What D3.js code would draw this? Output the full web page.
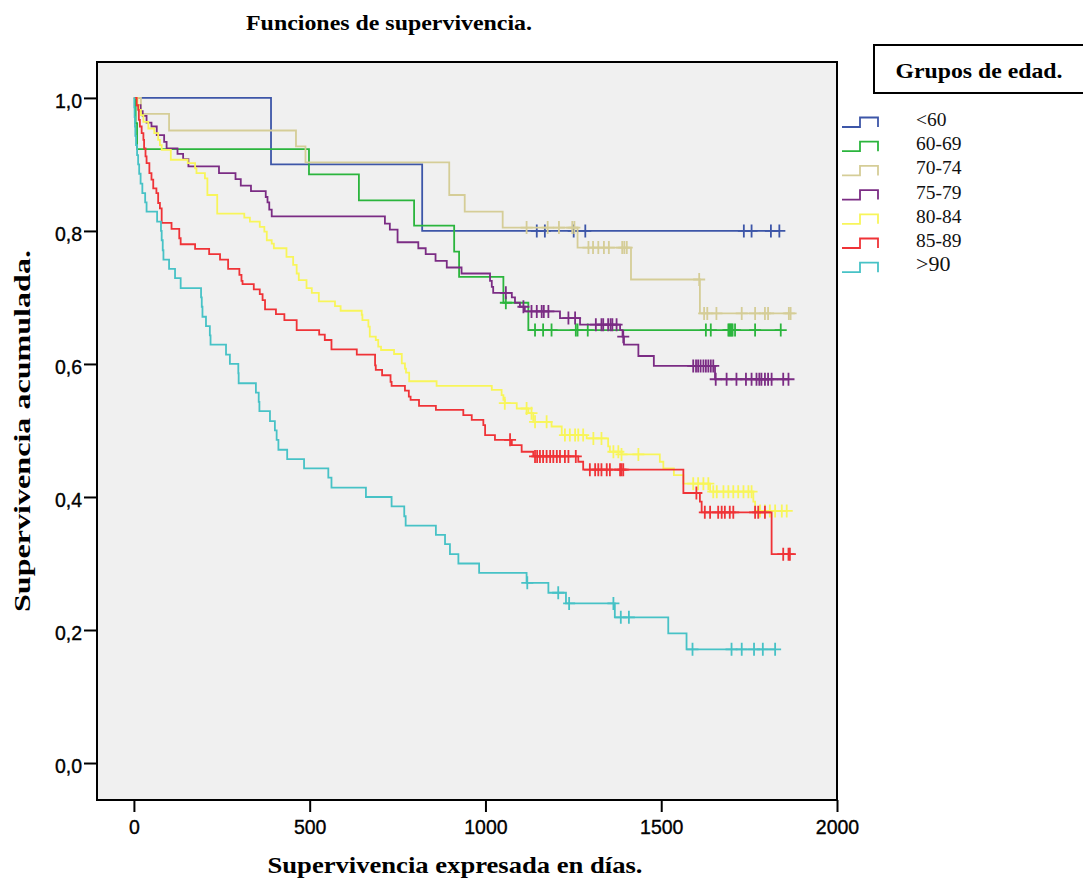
<!DOCTYPE html>
<html>
<head>
<meta charset="utf-8">
<script src="https://cdnjs.cloudflare.com/ajax/libs/d3/7.8.5/d3.min.js"></script>
<style>
  body { margin: 0; background: #fff; }
</style>
</head>
<body>
<div id="container"></div>
<script>
// grupos de edad y curvas de Kaplan-Meier
const groups = ["<60", "60-69", "70-74", "75-79", "80-84", "85-89", ">90"];
const colors = ["#3d56a8", "#2bb53d", "#d5cd97", "#7b2c84", "#f8f55a", "#ef3337", "#47c2c6"];
const xTicks = [0, 500, 1000, 1500, 2000];
const yTicks = [0, 0.2, 0.4, 0.6, 0.8, 1.0];

// [dia, supervivencia] en cada caida
const lt60Steps = [[0, 1], [390, 0.9], [820, 0.8]];
const lt60Censor = [1146, 1169, 1251, 1284, 1735, 1757, 1812, 1836];

const g6069Steps = [[0, 1], [5, 0.962], [9, 0.923], [498, 0.885], [640, 0.846], [797, 0.808],
  [911, 0.769], [925, 0.731], [1051, 0.692], [1122, 0.651]];
const g6069Censor = [1058, 1141, 1164, 1188, 1257, 1262, 1291, 1627, 1641, 1691, 1694, 1697,
  1700, 1703, 1710, 1767, 1840];

const g7074Steps = [[0, 1], [20, 0.976], [100, 0.951], [461, 0.927], [488, 0.903], [897, 0.854],
  [941, 0.829], [1049, 0.805], [1262, 0.775], [1414, 0.727], [1610, 0.676]];
const g7074Censor = [1117, 1177, 1209, 1247, 1253, 1293, 1306, 1321, 1337, 1351, 1389, 1395, 1402,
  1608, 1622, 1631, 1657, 1729, 1767, 1795, 1804, 1863, 1868];

const g7579Steps = [[0, 1], [9, 0.989], [19, 0.980], [25, 0.973], [36, 0.963], [50, 0.957],
  [65, 0.944], [86, 0.934], [93, 0.924], [124, 0.916], [140, 0.908], [155, 0.897], [242, 0.887],
  [289, 0.878], [304, 0.868], [333, 0.860], [375, 0.851], [380, 0.843], [385, 0.832], [392, 0.822],
  [714, 0.811], [728, 0.802], [750, 0.783], [809, 0.774], [830, 0.765], [858, 0.755], [890, 0.745],
  [932, 0.736], [1013, 0.725], [1018, 0.716], [1022, 0.707], [1075, 0.700], [1084, 0.692],
  [1098, 0.686], [1112, 0.679], [1212, 0.669], [1269, 0.659], [1383, 0.651], [1390, 0.641],
  [1394, 0.629], [1435, 0.612], [1479, 0.597], [1653, 0.577]];
const g7579Censor = [1058, 1108, 1131, 1146, 1160, 1166, 1179, 1236, 1255, 1314, 1330, 1335, 1349,
  1356, 1361, 1373, 1392, 1591, 1599, 1605, 1612, 1620, 1627, 1634, 1641, 1648, 1655, 1686, 1714,
  1741, 1757, 1771, 1779, 1785, 1795, 1804, 1814, 1847, 1862];

const g8084Steps = [[0, 1], [10, 0.989], [14, 0.982], [20, 0.974], [27, 0.964], [41, 0.954],
  [58, 0.947], [69, 0.937], [74, 0.929], [79, 0.922], [105, 0.907], [153, 0.902], [174, 0.894],
  [178, 0.887], [202, 0.879], [209, 0.854], [237, 0.826], [314, 0.820], [330, 0.814], [358, 0.806],
  [371, 0.799], [378, 0.786], [392, 0.781], [398, 0.774], [434, 0.761], [453, 0.749], [463, 0.736],
  [469, 0.726], [491, 0.714], [506, 0.707], [526, 0.694], [572, 0.687], [588, 0.680], [648, 0.674],
  [650, 0.666], [667, 0.656], [671, 0.641], [688, 0.636], [695, 0.626], [703, 0.621], [740, 0.615],
  [762, 0.601], [771, 0.593], [774, 0.587], [783, 0.574], [861, 0.567], [1018, 0.561], [1046, 0.553],
  [1051, 0.546], [1055, 0.541], [1089, 0.533], [1122, 0.526], [1136, 0.513], [1188, 0.506],
  [1217, 0.493], [1288, 0.488], [1349, 0.476], [1354, 0.468], [1387, 0.464], [1496, 0.453],
  [1506, 0.443], [1536, 0.433], [1563, 0.420], [1639, 0.408], [1762, 0.393], [1767, 0.379]];
const g8084Censor = [1055, 1117, 1131, 1141, 1174, 1226, 1240, 1255, 1264, 1278, 1307, 1330, 1364,
  1378, 1387, 1435, 1591, 1605, 1620, 1634, 1648, 1658, 1677, 1691, 1705, 1719, 1734, 1748, 1757,
  1781, 1795, 1809, 1824, 1843, 1857];

const g8589Steps = [[0, 1], [8, 0.989], [12, 0.982], [14, 0.967], [17, 0.957], [22, 0.947],
  [27, 0.937], [29, 0.924], [33, 0.912], [36, 0.902], [44, 0.887], [50, 0.877], [55, 0.864],
  [64, 0.857], [69, 0.842], [74, 0.834], [79, 0.812], [107, 0.803], [129, 0.789], [133, 0.780],
  [174, 0.773], [214, 0.765], [245, 0.757], [268, 0.743], [300, 0.734], [306, 0.725], [309, 0.720],
  [341, 0.712], [358, 0.705], [366, 0.696], [373, 0.682], [404, 0.675], [428, 0.666], [463, 0.651],
  [527, 0.644], [543, 0.636], [562, 0.622], [634, 0.614], [686, 0.598], [688, 0.591], [706, 0.583],
  [730, 0.573], [733, 0.567], [771, 0.560], [782, 0.551], [787, 0.546], [811, 0.537], [859, 0.531],
  [937, 0.523], [961, 0.516], [994, 0.508], [999, 0.493], [1027, 0.486], [1075, 0.478],
  [1103, 0.468], [1136, 0.461], [1264, 0.453], [1278, 0.441], [1563, 0.406], [1610, 0.393],
  [1615, 0.377], [1814, 0.314]];
const g8589Censor = [1070, 1141, 1147, 1155, 1164, 1174, 1184, 1193, 1203, 1212, 1226, 1236, 1257,
  1297, 1312, 1321, 1330, 1345, 1354, 1383, 1387, 1392, 1600, 1624, 1639, 1662, 1672, 1681, 1695,
  1705, 1767, 1776, 1795, 1847, 1862, 1866];

const gt90Steps = [[0, 1], [1, 0.986], [2, 0.971], [3, 0.957], [4, 0.943], [6, 0.929], [9, 0.914],
  [12, 0.900], [15, 0.886], [19, 0.871], [24, 0.857], [32, 0.843], [36, 0.829], [66, 0.814],
  [77, 0.800], [79, 0.786], [82, 0.771], [84, 0.757], [100, 0.743], [117, 0.729], [133, 0.714],
  [191, 0.700], [193, 0.686], [195, 0.671], [205, 0.657], [216, 0.643], [218, 0.629], [262, 0.614],
  [273, 0.600], [297, 0.586], [298, 0.571], [347, 0.557], [355, 0.543], [357, 0.529], [387, 0.514],
  [401, 0.500], [406, 0.486], [411, 0.471], [436, 0.457], [484, 0.443], [553, 0.429], [562, 0.414],
  [660, 0.400], [733, 0.386], [769, 0.371], [773, 0.357], [859, 0.343], [885, 0.329], [899, 0.314],
  [923, 0.300], [982, 0.286], [1117, 0.271], [1179, 0.256], [1229, 0.240], [1368, 0.219],
  [1520, 0.195], [1572, 0.171]];
const gt90Censor = [1119, 1207, 1238, 1364, 1385, 1408, 1589, 1700, 1729, 1764, 1789, 1824];

const allSteps = [lt60Steps, g6069Steps, g7074Steps, g7579Steps, g8084Steps, g8589Steps, gt90Steps];
const allCensor = [lt60Censor, g6069Censor, g7074Censor, g7579Censor, g8084Censor, g8589Censor, gt90Censor];

const W = 1083, H = 882;
const pLeft = 97, pTop = 62, pRight = 837, pBottom = 800;

let svg = d3.select("#container")
  .append("svg")
  .attr("width", W)
  .attr("height", H);

const x = d3.scaleLinear().domain([-105, 2000]).range([pLeft, pRight]);
const y = d3.scaleLinear().domain([-0.0556, 1.054]).range([pBottom, pTop]);

// fondo del area del grafico
svg.append("rect")
  .attr("x", pLeft).attr("y", pTop)
  .attr("width", pRight - pLeft).attr("height", pBottom - pTop)
  .attr("fill", "#f0f0f0");

const tickFont = "Arial, 'Liberation Sans', sans-serif";

const yAxis = svg.append("g")
  .attr("transform", `translate(${pLeft},0)`)
  .call(d3.axisLeft(y).tickValues(yTicks).tickSize(13).tickPadding(2)
    .tickFormat(d => d3.format(".1f")(d).replace(".", ",")));
const xAxis = svg.append("g")
  .attr("transform", `translate(0,${pBottom})`)
  .call(d3.axisBottom(x).tickValues(xTicks).tickSize(12).tickPadding(8)
    .tickFormat(d3.format("d")));

[yAxis, xAxis].forEach(a => {
  a.select(".domain").remove();
  a.selectAll("line").attr("stroke", "#000").attr("stroke-width", 2);
  a.selectAll("text")
    .attr("fill", "#000")
    .attr("stroke", "#000").attr("stroke-width", 0.35)
    .style("font-family", tickFont)
    .style("font-size", "19.5px");
});
yAxis.selectAll("text").attr("dy", "0.47em");

// curvas escalonadas
const line = d3.line()
  .x(d => x(d[0]))
  .y(d => y(d[1]))
  .curve(d3.curveStepAfter);

function survAt(steps, t) {
  let s = steps[0][1];
  steps.forEach(p => { if (p[0] <= t) s = p[1]; });
  return s;
}

allSteps.forEach((steps, i) => {
  const censor = allCensor[i];
  const end = d3.max(censor);
  const pts = steps.concat([[end, steps[steps.length - 1][1]]]);
  const g = svg.append("g");
  g.append("path")
    .attr("d", line(pts))
    .attr("fill", "none")
    .attr("stroke", colors[i])
    .attr("stroke-width", 1.8);
  g.selectAll("path.cens").data(censor).enter().append("path")
    .attr("class", "cens")
    .attr("d", t => {
      const cx = x(t), cy = y(survAt(steps, t));
      return `M${cx - 6},${cy}H${cx + 6}M${cx},${cy - 6.5}V${cy + 6.5}`;
    })
    .attr("fill", "none")
    .attr("stroke", colors[i])
    .attr("stroke-width", 1.8);
});

// marco
svg.append("rect")
  .attr("x", pLeft).attr("y", pTop)
  .attr("width", pRight - pLeft).attr("height", pBottom - pTop)
  .attr("fill", "none")
  .attr("stroke", "#000")
  .attr("stroke-width", 2);

const serif = "'Times New Roman', 'Liberation Serif', serif";

svg.append("text")
  .text("Funciones de supervivencia.")
  .attr("x", 389).attr("y", 30)
  .attr("text-anchor", "middle")
  .attr("textLength", 286).attr("lengthAdjust", "spacingAndGlyphs")
  .style("font-family", serif).style("font-weight", "bold").style("font-size", "20px");

svg.append("text")
  .text("Supervivencia expresada en días.")
  .attr("x", 455).attr("y", 873)
  .attr("text-anchor", "middle")
  .attr("textLength", 375).attr("lengthAdjust", "spacingAndGlyphs")
  .style("font-family", serif).style("font-weight", "bold").style("font-size", "23px");

svg.append("text")
  .text("Supervivencia acumulada.")
  .attr("transform", "translate(30,431) rotate(-90)")
  .attr("text-anchor", "middle")
  .attr("textLength", 362).attr("lengthAdjust", "spacingAndGlyphs")
  .style("font-family", serif).style("font-weight", "bold").style("font-size", "23px");

// leyenda
svg.append("rect")
  .attr("x", 874).attr("y", 45)
  .attr("width", 220).attr("height", 48)
  .attr("fill", "#fff")
  .attr("stroke", "#000")
  .attr("stroke-width", 2);
svg.append("text")
  .text("Grupos de edad.")
  .attr("x", 979).attr("y", 78)
  .attr("text-anchor", "middle")
  .attr("textLength", 167).attr("lengthAdjust", "spacingAndGlyphs")
  .style("font-family", serif).style("font-weight", "bold").style("font-size", "22px");

const leg = svg.selectAll("g.leg").data(groups).enter().append("g")
  .attr("class", "leg")
  .attr("transform", (d, i) => `translate(0,${127 + i * 24.2})`);
leg.append("path")
  .attr("d", "M842,0H860V-9.5H878V0")
  .attr("fill", "none")
  .attr("stroke", (d, i) => colors[i])
  .attr("stroke-width", 1.8);
leg.append("text")
  .text(d => d)
  .attr("x", 916).attr("y", -1)
  .attr("fill", "#111")
  .style("font-family", serif)
  .style("font-size", (d, i) => i === 6 ? "22px" : "19.5px");
</script>
</body>
</html>
